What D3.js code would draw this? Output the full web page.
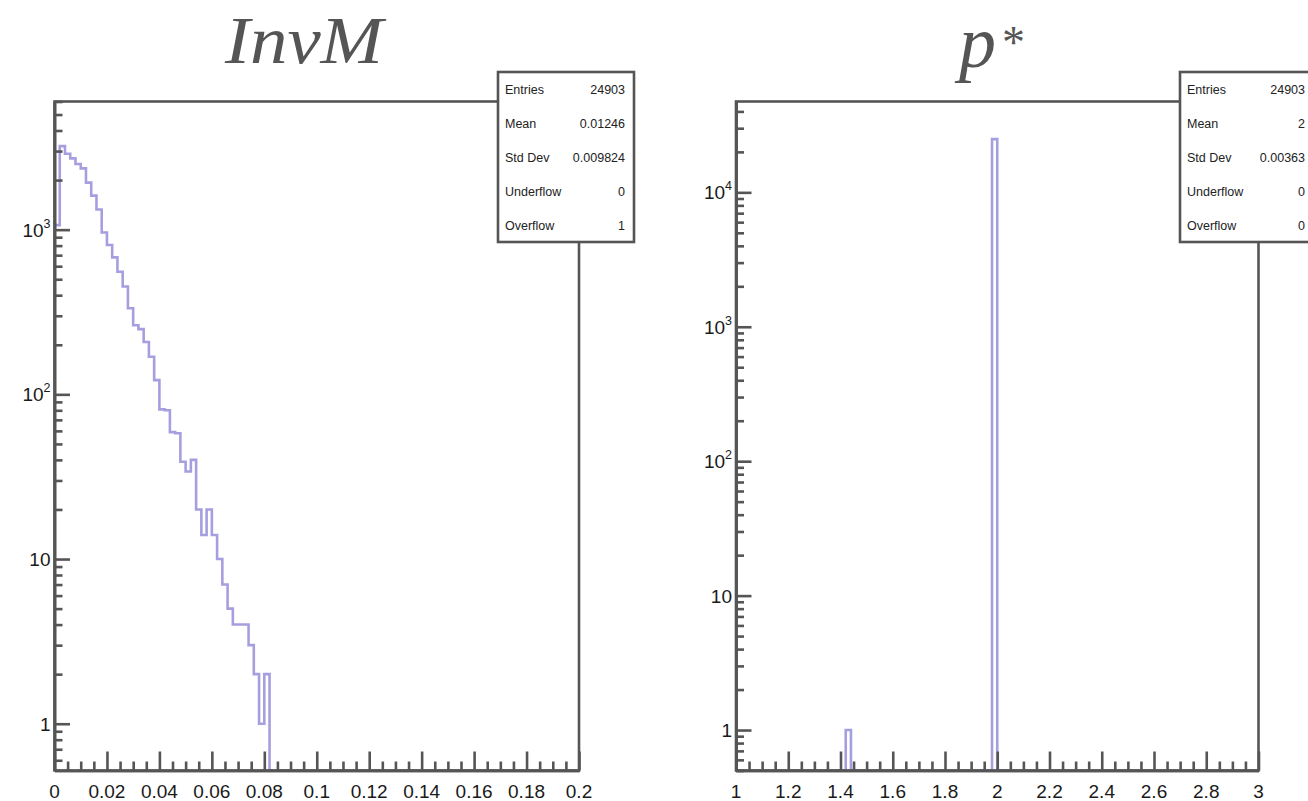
<!DOCTYPE html>
<html>
<head>
<meta charset="utf-8">
<script src="https://cdn.jsdelivr.net/npm/d3@7"></script>
<style>
  html, body { margin: 0; padding: 0; background: #ffffff; }
  svg { display: block; }
  .sans { font-family: "Liberation Sans", Arial, Helvetica, sans-serif; }
  .title { font-family: "Liberation Serif", "Times New Roman", serif; font-style: italic; }
</style>
</head>
<body>
<svg id="canvas" width="1308" height="801"></svg>
<script>
// ---- InvM: 100 bins of width 0.002 on [0, 0.2]; bins after the last listed one are empty
const invmRange = [0, 0.2];
const invmBinWidth = 0.002;
const invmCounts = [1065, 3213, 2891, 2710, 2505, 2355, 1930, 1610, 1325, 960,
                    807, 679, 555, 452, 333, 263, 249, 208, 169, 122,
                    81, 80, 59, 58, 39, 34, 40, 20, 14, 20,
                    14, 10, 7, 5, 4, 4, 4, 3, 2, 1,
                    2];
const invmStats = ["24903", "0.01246", "0.009824", "0", "1"];

// ---- p*: 100 bins of width 0.02 on [1, 3]; only two bins are filled
const pstarRange = [1, 3];
const pstarBinWidth = 0.02;
const pstarFilledBinLow = [1.42, 1.98];
const pstarFilledCounts = [1, 24902];
const pstarStats = ["24903", "2", "0.00363", "0", "0"];

// ---- shared text
const statNames = ["Entries", "Mean", "Std Dev", "Underflow", "Overflow"];
const invmXTicks = [0, 0.02, 0.04, 0.06, 0.08, 0.1, 0.12, 0.14, 0.16, 0.18, 0.2];
const invmXLabels = ["0", "0.02", "0.04", "0.06", "0.08", "0.1", "0.12", "0.14", "0.16", "0.18", "0.2"];
const pstarXTicks = [1, 1.2, 1.4, 1.6, 1.8, 2, 2.2, 2.4, 2.6, 2.8, 3];
const pstarXLabels = ["1", "1.2", "1.4", "1.6", "1.8", "2", "2.2", "2.4", "2.6", "2.8", "3"];
const invmYTicks = [1, 10, 100, 1000];
const pstarYTicks = [1, 10, 100, 1000, 10000];
// label: [base, exponent]
const invmYLabels = [["1", ""], ["10", ""], ["10", "2"], ["10", "3"]];
const pstarYLabels = [["1", ""], ["10", ""], ["10", "2"], ["10", "3"], ["10", "4"]];

const AXIS_COLOR = "#555555";
const HIST_COLOR = "#a59fe0";
const svg = d3.select("#canvas");

function fullCounts(nBins, lowEdges, counts, start, width) {
  const arr = new Array(nBins).fill(0);
  lowEdges.forEach((lo, k) => {
    const i = Math.round((lo - start) / width);
    arr[i] = counts[k];
  });
  return arr;
}

function styleAxis(sel) {
  sel.selectAll("text").remove();
  sel.selectAll("line").attr("stroke", AXIS_COLOR).attr("stroke-width", 2.6);
  sel.select(".domain").attr("stroke", AXIS_COLOR).attr("stroke-width", 2.6);
}

function drawPanel(p) {
  const x = d3.scaleLinear().domain(p.xRange).range([p.left, p.right]);
  const y = d3.scaleLog().domain(p.yDomain).range([p.bottom, p.top]).clamp(true);

  const clipId = "clip-" + p.id;
  svg.append("clipPath").attr("id", clipId)
    .append("rect")
    .attr("x", p.left).attr("y", p.top)
    .attr("width", p.right - p.left).attr("height", p.bottom - p.top);

  // histogram outline (step line)
  const pts = [];
  p.counts.forEach((c, i) => {
    const lo = p.xRange[0] + i * p.binWidth;
    const hi = lo + p.binWidth;
    const yy = c > 0 ? y(c) : p.bottom;
    pts.push([x(lo), yy], [x(hi), yy]);
  });
  pts.unshift([pts[0][0], p.bottom]);
  pts.push([pts[pts.length - 1][0], p.bottom]);
  svg.append("path")
    .attr("d", d3.line()(pts))
    .attr("fill", "none")
    .attr("stroke", HIST_COLOR)
    .attr("stroke-width", 2.6)
    .attr("stroke-linejoin", "miter")
    .attr("clip-path", `url(#${clipId})`);

  // frame
  svg.append("rect")
    .attr("x", p.left).attr("y", p.top)
    .attr("width", p.right - p.left).attr("height", p.bottom - p.top)
    .attr("fill", "none")
    .attr("stroke", AXIS_COLOR).attr("stroke-width", 2.6);

  // x axis: major + minor ticks pointing into the frame
  const xMinor = d3.range(p.xRange[0], p.xRange[1] + 1e-9, p.xMinorStep)
    .filter(v => !p.xTicks.some(t => Math.abs(t - v) < 1e-9));
  svg.append("g").attr("transform", `translate(0,${p.bottom})`)
    .call(d3.axisTop(x).tickValues(p.xTicks).tickSize(19).tickSizeOuter(0))
    .call(styleAxis);
  svg.append("g").attr("transform", `translate(0,${p.bottom})`)
    .call(d3.axisTop(x).tickValues(xMinor).tickSize(9).tickSizeOuter(0))
    .call(styleAxis);

  // y axis: decades + 2..9 subdivisions
  const lo = Math.floor(Math.log10(p.yDomain[0]));
  const hi = Math.ceil(Math.log10(p.yDomain[1]));
  const yMinor = [];
  for (let d = lo; d <= hi; d++) {
    for (let m = 2; m <= 9; m++) {
      const v = m * Math.pow(10, d);
      if (v >= p.yDomain[0] && v <= p.yDomain[1]) yMinor.push(v);
    }
  }
  svg.append("g").attr("transform", `translate(${p.left},0)`)
    .call(d3.axisRight(y).tickValues(p.yTicks).tickSize(15.5).tickSizeOuter(0))
    .call(styleAxis);
  svg.append("g").attr("transform", `translate(${p.left},0)`)
    .call(d3.axisRight(y).tickValues(yMinor).tickSize(8).tickSizeOuter(0))
    .call(styleAxis);

  // x tick labels
  svg.append("g").attr("class", "sans").selectAll("text")
    .data(p.xTicks)
    .join("text")
    .attr("x", d => x(d))
    .attr("y", 798)
    .attr("text-anchor", "middle")
    .attr("font-size", 19)
    .attr("fill", "#1a1a1a")
    .text((d, i) => p.xLabels[i]);

  // y tick labels with superscript exponents
  const yl = svg.append("g").attr("class", "sans").selectAll("text")
    .data(p.yTicks)
    .join("text")
    .attr("x", p.left - 4)
    .attr("y", d => y(d) + 7)
    .attr("text-anchor", "end")
    .attr("font-size", 19)
    .attr("fill", "#1a1a1a");
  yl.each(function (d, i) {
    const [base, exp] = p.yLabels[i];
    const t = d3.select(this);
    t.append("tspan").text(base);
    if (exp) {
      t.append("tspan").attr("font-size", 12.5).attr("dy", -9).text(exp);
    }
  });

  // statistics box
  const bx = p.stats.x, by = p.stats.y, bw = p.stats.w, bh = p.stats.h;
  svg.append("rect")
    .attr("x", bx).attr("y", by).attr("width", bw).attr("height", bh)
    .attr("fill", "#ffffff")
    .attr("stroke", AXIS_COLOR).attr("stroke-width", 2.6);
  const rowH = bh / statNames.length;
  const sg = svg.append("g").attr("class", "sans");
  statNames.forEach((name, i) => {
    const ty = by + rowH * (i + 0.5) + 4.5;
    sg.append("text").attr("x", bx + 7).attr("y", ty)
      .attr("font-size", 12.5).attr("fill", "#222").text(name);
    sg.append("text").attr("x", bx + bw - 9).attr("y", ty)
      .attr("text-anchor", "end")
      .attr("font-size", 12.5).attr("fill", "#222").text(p.statValues[i]);
  });
}

drawPanel({
  id: "invm",
  xRange: invmRange, binWidth: invmBinWidth,
  counts: fullCounts(100, invmCounts.map((c, i) => invmRange[0] + i * invmBinWidth), invmCounts, invmRange[0], invmBinWidth),
  yDomain: [0.52, 6000],
  left: 54.5, right: 579, top: 101.5, bottom: 770.5,
  xTicks: invmXTicks, xLabels: invmXLabels, xMinorStep: 0.005,
  yTicks: invmYTicks, yLabels: invmYLabels,
  stats: { x: 498, y: 72, w: 136, h: 170 },
  statValues: invmStats
});

drawPanel({
  id: "pstar",
  xRange: pstarRange, binWidth: pstarBinWidth,
  counts: fullCounts(100, pstarFilledBinLow, pstarFilledCounts, pstarRange[0], pstarBinWidth),
  yDomain: [0.5, 47400],
  left: 736, right: 1258.5, top: 101.5, bottom: 770.5,
  xTicks: pstarXTicks, xLabels: pstarXLabels, xMinorStep: 0.05,
  yTicks: pstarYTicks, yLabels: pstarYLabels,
  stats: { x: 1180, y: 72, w: 134, h: 170 },
  statValues: pstarStats
});

// titles
svg.append("text").attr("class", "title")
  .attr("x", 225).attr("y", 63)
  .attr("font-size", 68).attr("fill", "#555")
  .attr("textLength", 158).attr("lengthAdjust", "spacingAndGlyphs")
  .text("InvM");
svg.append("text").attr("class", "title")
  .attr("x", 959).attr("y", 67)
  .attr("font-size", 74).attr("fill", "#555")
  .attr("textLength", 37).attr("lengthAdjust", "spacingAndGlyphs")
  .text("p");
svg.append("text").attr("class", "title")
  .attr("x", 1002).attr("y", 58)
  .style("font-style", "normal")
  .attr("font-size", 46).attr("fill", "#555")
  .text("*");
</script>
</body>
</html>
